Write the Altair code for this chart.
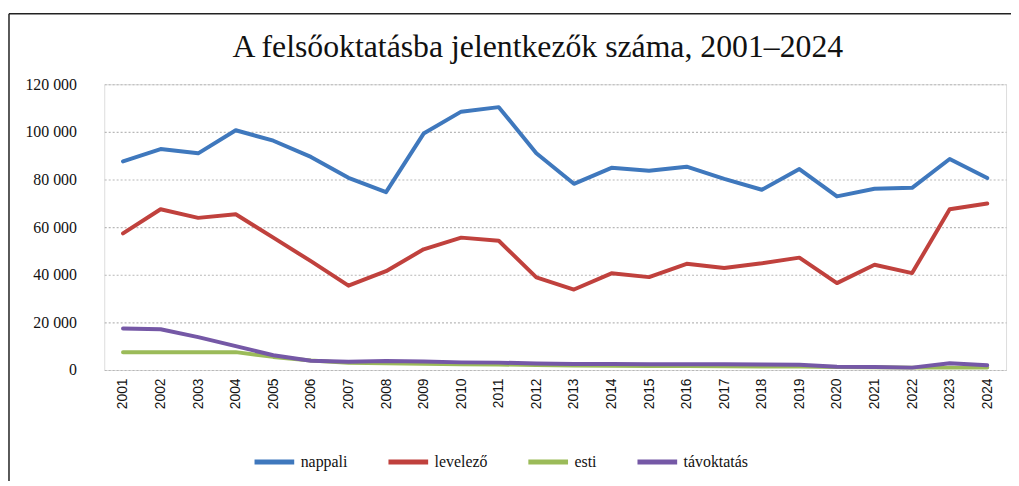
import altair as alt
import pandas as pd

years = [str(y) for y in range(2001, 2025)]
nappali = [87600, 92800, 91000, 100700, 96300, 89500, 80700, 74700, 99300, 108500, 110400, 91000,
           78200, 84900, 83700, 85400, 80300, 75700, 84400, 72900, 76100, 76500, 88600, 80600]
levelezo = [57400, 67500, 63900, 65400, 55600, 45700, 35400, 41500, 50700, 55600, 54300, 38900,
            33800, 40600, 39000, 44600, 42800, 44800, 47200, 36500, 44200, 40700, 67500, 69900]
esti = [7500, 7500, 7500, 7500, 5500, 4000, 3000, 2800, 2600, 2400, 2300, 2100,
        1900, 1800, 1700, 1700, 1600, 1500, 1500, 1300, 1200, 1000, 1000, 1000]
tavoktatas = [17400, 17100, 13800, 10000, 6200, 3900, 3500, 3800, 3600, 3200, 3100, 2700,
              2500, 2500, 2400, 2400, 2400, 2300, 2200, 1400, 1300, 1000, 2800, 2000]

series = ["nappali", "levelező", "esti", "távoktatás"]
colors = ["#3f78bd", "#c0413d", "#9bbb59", "#7558a6"]
values = [nappali, levelezo, esti, tavoktatas]
title_text = "A felsőoktatásba jelentkezők száma, 2001–2024"

rows = []
for si, (name, vals) in enumerate(zip(series, values)):
    for y, v in zip(years, vals):
        rows.append({"év": y, "sorozat": name, "érték": v, "ord": si})
df = pd.DataFrame(rows)

lines = alt.Chart(df).mark_line(strokeWidth=4, strokeCap="round", strokeJoin="round").encode(
    x=alt.X("év:O", title=None,
            scale=alt.Scale(type="point", padding=0.5),
            axis=alt.Axis(labelAngle=-90, labelFont="Liberation Sans", labelFontSize=14,
                          labelColor="#111", labelPadding=8, ticks=False, domain=False,
                          grid=False, labelAlign="right", labelBaseline="middle")),
    y=alt.Y("érték:Q", title=None,
            scale=alt.Scale(domain=[0, 120000], nice=False),
            axis=alt.Axis(values=[0, 20000, 40000, 60000, 80000, 100000, 120000],
                          labelExpr="replace(format(datum.value, ','), ',', ' ')",
                          labelFont="Liberation Serif", labelFontSize=16, labelColor="#111",
                          labelPadding=28, ticks=False, domain=False,
                          grid=True, gridColor="#b8b8b8", gridDash=[2, 2], gridWidth=1.2)),
    color=alt.Color("sorozat:N", sort=series,
                    scale=alt.Scale(domain=series, range=colors),
                    legend=alt.Legend(title=None, orient="none", legendX=149, legendY=358,
                                      direction="horizontal", symbolType="stroke",
                                      symbolSize=1600, symbolStrokeWidth=5,
                                      labelFont="Liberation Serif", labelFontSize=16,
                                      labelColor="#111", labelOffset=4, columnPadding=30)),
    order=alt.Order("ord:Q"),
    detail="sorozat:N",
)

frame_df = pd.DataFrame({"k": [0]})
top_rule = alt.Chart(frame_df).mark_rule(color="#222", strokeWidth=1.5).encode(
    x=alt.value(-96), x2=alt.value(1000), y=alt.value(-71))
left_rule = alt.Chart(frame_df).mark_rule(color="#222", strokeWidth=1.5).encode(
    x=alt.value(-96), y=alt.value(-71), y2=alt.value(420))
title_mark = alt.Chart(pd.DataFrame({"t": [title_text]})).mark_text(
    font="Liberation Serif", fontSize=32, color="#111", align="center", baseline="alphabetic"
).encode(text="t:N", x=alt.value(437), y=alt.value(-27))

chart = alt.layer(top_rule, left_rule, title_mark, lines).properties(
    width=909, height=288,
    autosize=alt.AutoSizeParams(type="none"),
    padding={"left": 97, "top": 75, "right": 5, "bottom": 110},
).configure_view(stroke=None).configure(background="white").configure_legend(
    labelFont="Liberation Serif", labelFontSize=16, labelColor="#111")

chart.save("out.html", embed_options={"renderer": "svg", "actions": False})
